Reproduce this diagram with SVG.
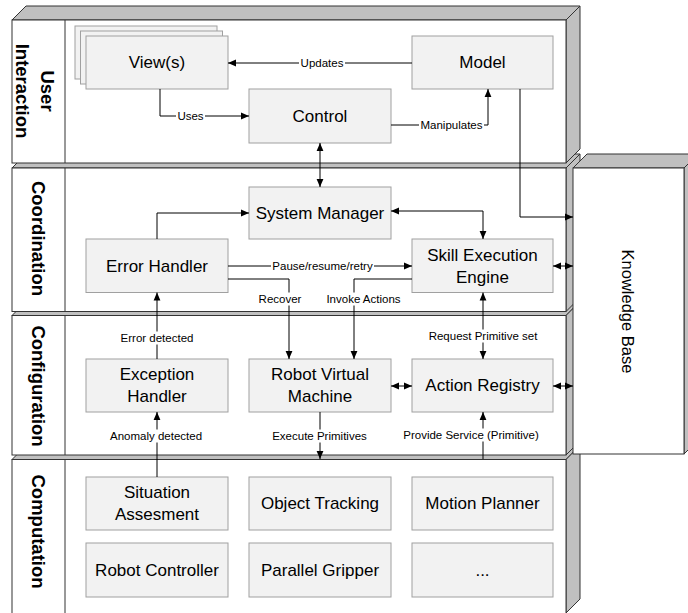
<svg xmlns="http://www.w3.org/2000/svg" width="688" height="613" viewBox="0 0 688 613">
<style>
text{font-family:"Liberation Sans",Arial,sans-serif;fill:#000}
.face{fill:#c0c0c0;stroke:#333;stroke-width:1}
.front{fill:#fff;stroke:#333;stroke-width:1}
.div{stroke:#333;stroke-width:1}
.lay{font-size:18.5px;font-weight:bold}
.node rect{fill:#f2f2f2;stroke:#a0a0a0;stroke-width:1}
.nt{font-size:17px;text-anchor:middle;dominant-baseline:central}
.c{fill:none;stroke:#000;stroke-width:1}
.lb{fill:#fff}
.lt{font-size:11.5px;text-anchor:middle;dominant-baseline:central}
</style>
<defs>
<marker id="ah" viewBox="0 0 8 8" refX="8" refY="4" markerWidth="8" markerHeight="8" orient="auto-start-reverse" markerUnits="userSpaceOnUse"><path d="M0,0.6 L8,4 L0,7.4 z" fill="#000"/></marker>
</defs>

<g id="layer-computation">
<polygon class="face" points="12,459.5 26,445.5 580,445.5 566,459.5"/>
<polygon class="face" points="566,459.5 580,445.5 580,599 566,613"/>
<rect class="front" x="12" y="459.5" width="554" height="160"/>
<line class="div" x1="65" y1="459.5" x2="65" y2="613"/>
<text class="lay" transform="translate(38.5,531.5) rotate(90)" text-anchor="middle" dominant-baseline="central">Computation</text>
</g>
<g id="layer-configuration">
<polygon class="face" points="12,315.5 26,301.5 580,301.5 566,315.5"/>
<polygon class="face" points="566,315.5 580,301.5 580,441 566,455"/>
<rect class="front" x="12" y="315.5" width="554" height="139.5"/>
<line class="div" x1="65" y1="315.5" x2="65" y2="455"/>
<text class="lay" transform="translate(38.5,386) rotate(90)" text-anchor="middle" dominant-baseline="central">Configuration</text>
</g>
<g id="layer-coordination">
<polygon class="face" points="12,168 26,154 580,154 566,168"/>
<polygon class="face" points="566,168 580,154 580,297.5 566,311.5"/>
<rect class="front" x="12" y="168" width="554" height="143.5"/>
<line class="div" x1="65" y1="168" x2="65" y2="311.5"/>
<text class="lay" transform="translate(38.5,238.5) rotate(90)" text-anchor="middle" dominant-baseline="central">Coordination</text>
</g>
<g id="layer-user-interaction">
<polygon class="face" points="12,20 26,6 580,6 566,20"/>
<polygon class="face" points="566,20 580,6 580,149 566,163"/>
<rect class="front" x="12" y="20" width="554" height="143"/>
<line class="div" x1="65" y1="20" x2="65" y2="163"/>
<text class="lay" transform="translate(47,91) rotate(90)" text-anchor="middle" dominant-baseline="central">User</text>
<text class="lay" transform="translate(22,91) rotate(90)" text-anchor="middle" dominant-baseline="central">Interaction</text>
</g>
<g id="knowledge-base">
<polygon class="face" points="573,168 587,154 698,154 684,168"/>
<polygon class="face" points="684,168 698,154 698,440 684,454"/>
<rect class="front" x="573" y="168" width="111" height="286"/>
<text transform="translate(628,311.5) rotate(90)" text-anchor="middle" dominant-baseline="central" font-size="16.5">Knowledge Base</text>
</g>

<g id="views" class="node">
<rect x="75" y="26" width="142" height="53"/>
<rect x="80.5" y="31" width="142" height="53"/>
<rect x="86" y="36" width="142" height="53"/>
<text class="nt" x="157" y="62.5">View(s)</text>
</g>
<g id="model" class="node"><rect x="412" y="36" width="141" height="53"/><text class="nt" x="482.5" y="62.5">Model</text></g>
<g id="control" class="node"><rect x="249" y="89" width="142" height="54"/><text class="nt" x="320" y="116">Control</text></g>
<g id="system-manager" class="node"><rect x="249" y="187" width="142" height="52"/><text class="nt" x="320" y="213">System Manager</text></g>
<g id="error-handler" class="node"><rect x="86" y="239" width="142" height="53.5"/><text class="nt" x="157" y="266">Error Handler</text></g>
<g id="skill-execution-engine" class="node"><rect x="412" y="239" width="141" height="53.5"/><text class="nt" x="482.5" y="255.5">Skill Execution</text><text class="nt" x="482.5" y="277.5">Engine</text></g>
<g id="exception-handler" class="node"><rect x="86" y="359" width="142" height="53"/><text class="nt" x="157" y="374.5">Exception</text><text class="nt" x="157" y="396.5">Handler</text></g>
<g id="robot-virtual-machine" class="node"><rect x="249" y="359" width="142" height="53"/><text class="nt" x="320" y="374.5">Robot Virtual</text><text class="nt" x="320" y="396.5">Machine</text></g>
<g id="action-registry" class="node"><rect x="412" y="359" width="141" height="53"/><text class="nt" x="482.5" y="385.5">Action Registry</text></g>
<g id="situation-assesment" class="node"><rect x="86" y="477" width="142" height="53"/><text class="nt" x="157" y="492.5">Situation</text><text class="nt" x="157" y="514.5">Assesment</text></g>
<g id="object-tracking" class="node"><rect x="249" y="477" width="142" height="53"/><text class="nt" x="320" y="503.5">Object Tracking</text></g>
<g id="motion-planner" class="node"><rect x="412" y="477" width="141" height="53"/><text class="nt" x="482.5" y="503.5">Motion Planner</text></g>
<g id="robot-controller" class="node"><rect x="86" y="543" width="142" height="54"/><text class="nt" x="157" y="570">Robot Controller</text></g>
<g id="parallel-gripper" class="node"><rect x="249" y="543" width="142" height="54"/><text class="nt" x="320" y="570">Parallel Gripper</text></g>
<g id="more" class="node"><rect x="412" y="543" width="141" height="54"/><text class="nt" x="482.5" y="570">...</text></g>

<g id="connectors">
<path class="c" d="M412,63 H228" marker-end="url(#ah)"/>
<path class="c" d="M160,89 V116 H249" marker-end="url(#ah)"/>
<path class="c" d="M391,125 H488 V89" marker-end="url(#ah)"/>
<path class="c" d="M320,143 V187" marker-start="url(#ah)" marker-end="url(#ah)"/>
<path class="c" d="M520,89 V217 H573" marker-end="url(#ah)"/>
<path class="c" d="M157,239 V213 H249" marker-end="url(#ah)"/>
<path class="c" d="M391,211 H483 V239" marker-start="url(#ah)" marker-end="url(#ah)"/>
<path class="c" d="M228,266 H412" marker-end="url(#ah)"/>
<path class="c" d="M228,279 H289 V359" marker-end="url(#ah)"/>
<path class="c" d="M412,279 H354 V359" marker-end="url(#ah)"/>
<path class="c" d="M157,359 V292.5" marker-end="url(#ah)"/>
<path class="c" d="M157,477 V412" marker-end="url(#ah)"/>
<path class="c" d="M320,412 V459" marker-end="url(#ah)"/>
<path class="c" d="M391,386 H412" marker-start="url(#ah)" marker-end="url(#ah)"/>
<path class="c" d="M483,292.5 V359" marker-start="url(#ah)" marker-end="url(#ah)"/>
<path class="c" d="M483,459 V412" marker-end="url(#ah)"/>
<path class="c" d="M553,266 H573" marker-start="url(#ah)" marker-end="url(#ah)"/>
<path class="c" d="M553,386 H573" marker-start="url(#ah)" marker-end="url(#ah)"/>

<rect class="lb" x="299" y="56.5" width="46" height="13"/><text class="lt" x="322" y="63">Updates</text>
<rect class="lb" x="176" y="109.5" width="29" height="13"/><text class="lt" x="190.5" y="116">Uses</text>
<rect class="lb" x="419" y="118.5" width="65" height="13"/><text class="lt" x="451.5" y="125">Manipulates</text>
<rect class="lb" x="271" y="259.5" width="103" height="13"/><text class="lt" x="322.5" y="266">Pause/resume/retry</text>
<rect class="lb" x="257" y="292.5" width="46" height="13"/><text class="lt" x="280" y="299">Recover</text>
<rect class="lb" x="325" y="292.5" width="77" height="13"/><text class="lt" x="363.5" y="299">Invoke Actions</text>
<rect class="lb" x="119" y="331.5" width="76" height="13"/><text class="lt" x="157" y="338">Error detected</text>
<rect class="lb" x="108" y="429.5" width="96" height="13"/><text class="lt" x="156" y="436">Anomaly detected</text>
<rect class="lb" x="269" y="429.5" width="101" height="13"/><text class="lt" x="319.5" y="436">Execute Primitives</text>
<rect class="lb" x="426" y="329.5" width="114" height="13"/><text class="lt" x="483" y="336">Request Primitive set</text>
<rect class="lb" x="402" y="428.5" width="138" height="13"/><text class="lt" x="471" y="435">Provide Service (Primitive)</text>
</g>
</svg>
